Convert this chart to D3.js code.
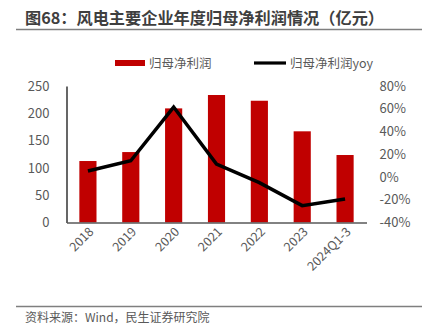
<!DOCTYPE html>
<html><head><meta charset="utf-8">
<script src="https://cdn.jsdelivr.net/npm/d3@7"></script>
<style>body{margin:0;background:#fff}svg{display:block}text{font-family:"Noto Sans CJK SC","Noto Sans",sans-serif}</style>
</head><body>
<svg id="c" width="431" height="325"></svg>
<script>
const categories = ["2018","2019","2020","2021","2022","2023","2024Q1-3"];
const profit = [112.6, 129, 209, 233.5, 223, 167, 123.6];
const yoy = [5.3, 14.3, 61.5, 11.4, -5, -25.2, -19.3];
const leftTicks = [0,50,100,150,200,250];
const rightTicks = [-40,-20,0,20,40,60,80];

const svg = d3.select("#c");
const L = 66.5, R = 366.5, T = 86, B = 222.5;
const x = d3.scaleBand().domain(categories).range([L,R]).paddingInner(0.6).paddingOuter(0.3);
const xc = d3.scalePoint().domain(categories).range([L,R]).padding(0.5);
const y = d3.scaleLinear().domain([0,250]).range([B,T]);
const y2 = d3.scaleLinear().domain([-40,80]).range([B,T]);
const grey = "#595959";

// title
svg.append("text").attr("x",25).attr("y",23.5).attr("font-size",16.2).attr("font-weight","bold").attr("fill","#3f3f3f")
  .text("图68：风电主要企业年度归母净利润情况（亿元）");
svg.append("line").attr("x1",16).attr("x2",422).attr("y1",29.5).attr("y2",29.5).attr("stroke","#7f7f7f").attr("stroke-width",1.3);

// legend
svg.append("rect").attr("x",115).attr("y",60).attr("width",30).attr("height",6).attr("fill","#C00000");
svg.append("text").attr("x",149).attr("y",67.5).attr("font-size",12.5).attr("fill",grey).text("归母净利润");
svg.append("line").attr("x1",254).attr("x2",286).attr("y1",63).attr("y2",63).attr("stroke","#000").attr("stroke-width",3.2);
svg.append("text").attr("x",290).attr("y",67.5).attr("font-size",12.5).attr("fill",grey).text("归母净利润yoy");

// bars
svg.append("g").selectAll("rect").data(categories).join("rect")
  .attr("x",d=>x(d)).attr("width",x.bandwidth())
  .attr("y",(d,i)=>y(profit[i])).attr("height",(d,i)=>B-y(profit[i]))
  .attr("fill","#C00000");

// left axis
const ga = svg.append("g").attr("transform",`translate(${L},0)`)
  .call(d3.axisLeft(y).tickValues(leftTicks).tickSize(0).tickPadding(17));
ga.select(".domain").attr("stroke","#000").attr("stroke-width",1.2);
ga.selectAll("text").attr("font-size",13).attr("fill",grey).attr("font-family","'Open Sans','Noto Sans',sans-serif");

// right axis
const gr = svg.append("g").attr("transform",`translate(${R},0)`)
  .call(d3.axisRight(y2).tickValues(rightTicks).tickSize(0).tickPadding(13).tickFormat(d=>d+"%"));
gr.select(".domain").remove();
gr.selectAll("text").attr("font-size",13).attr("fill",grey).attr("font-family","'Open Sans','Noto Sans',sans-serif");

// bottom axis
const gb = svg.append("g").attr("transform",`translate(0,${B})`)
  .call(d3.axisBottom(xc).tickSize(0).tickPadding(0));
gb.select(".domain").attr("stroke","#595959").attr("stroke-width",1.3);
gb.selectAll("text").attr("font-size",12.5).attr("fill",grey).attr("font-family","'Open Sans','Noto Sans',sans-serif")
  .attr("text-anchor","end").attr("dy",0)
  .attr("transform","translate(6,10) rotate(-45)");

// line
svg.append("path").datum(yoy)
  .attr("d",d3.line().x((d,i)=>xc(categories[i])).y(d=>y2(d)))
  .attr("fill","none").attr("stroke","#000").attr("stroke-width",3.5).attr("stroke-linejoin","miter");

// source
svg.append("line").attr("x1",16).attr("x2",422).attr("y1",306.5).attr("y2",306.5).attr("stroke","#7f7f7f").attr("stroke-width",1.3);
svg.append("text").attr("x",25).attr("y",322).attr("font-size",12).attr("fill",grey).text("资料来源：Wind，民生证券研究院");
</script>
</body></html>
